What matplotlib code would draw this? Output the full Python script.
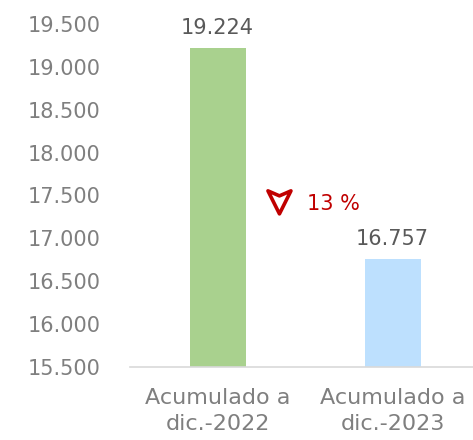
import numpy as np
import matplotlib.pyplot as plt
import matplotlib.transforms as mtransforms
from matplotlib.patches import Polygon

plt.rcParams['font.family'] = ['DejaVu Sans']

categorias = ['Acumulado a\ndic.-2022', 'Acumulado a\ndic.-2023']
valores = [19224, 16757]
colores = ['#A9D18E', '#BDE0FE']
etiquetas = ['19.224', '16.757']
variacion = '13 %'
yticks = [15500, 16000, 16500, 17000, 17500, 18000, 18500, 19000, 19500]
ytick_labels = ['15.500', '16.000', '16.500', '17.000', '17.500',
                '18.000', '18.500', '19.000', '19.500']

fig = plt.figure(figsize=(4.73, 4.40), dpi=100)
ax = fig.add_axes([130/473, 73/440, 1 - 130/473, 343/440])

x = np.arange(len(categorias))
ax.bar(x, valores, width=0.32, color=colores, zorder=2)
ax.set_ylim(15500, 19500)
ax.set_xlim(-0.5, 1.46)

for xi, v, t in zip(x, valores, etiquetas):
    ax.annotate(t, (xi, v), xytext=(0, 7), textcoords='offset points',
                ha='center', va='bottom', fontsize=15, color='#595959')

ax.set_yticks(yticks)
ax.set_yticklabels(ytick_labels, fontsize=15, color='#7F7F7F')
ax.set_xticks(x)
ax.set_xticklabels(categorias, fontsize=16, color='#7F7F7F', linespacing=1.38)
ax.tick_params(length=0)
ax.tick_params(axis='y', pad=21)
ax.tick_params(axis='x', pad=15)

for s in ['top', 'right', 'left']:
    ax.spines[s].set_visible(False)
ax.spines['bottom'].set_color('#D9D9D9')
ax.spines['bottom'].set_linewidth(1.2)

# flecha de variacion (en pulgadas alrededor de un punto de datos)
trans = fig.dpi_scale_trans + mtransforms.ScaledTranslation(0.354, 17420, ax.transData)
pts = np.array([(-0.115, 0.115), (0.0, 0.065), (0.115, 0.115), (0.0, -0.115)])
ax.add_patch(Polygon(pts, closed=True, fill=False, edgecolor='#C00000',
                     linewidth=2.6, joinstyle='round', transform=trans, clip_on=False))
ax.text(0.514, 17400, variacion, fontsize=15, color='#C00000',
        ha='left', va='center')

plt.savefig('out.png', dpi=100)
